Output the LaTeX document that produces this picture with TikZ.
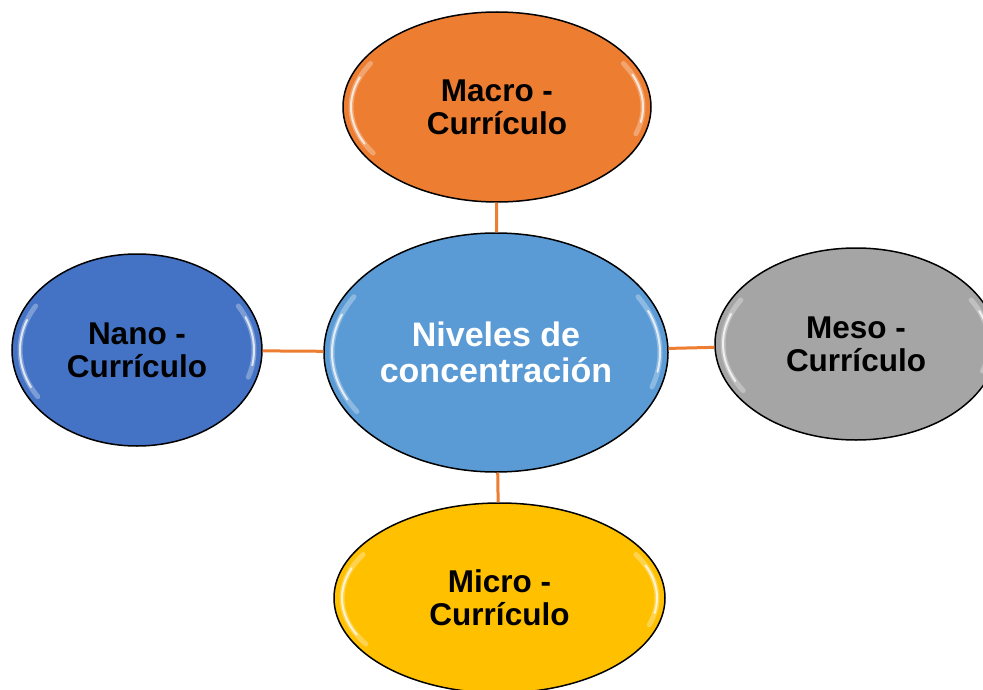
\documentclass[tikz,border=0pt]{standalone}
\usepackage{fontspec}
\setmainfont{Liberation Sans}
\usetikzlibrary{shapes.geometric}
\definecolor{cOrange}{HTML}{ED7D31}
\definecolor{cBlue}{HTML}{5B9BD5}
\definecolor{cDark}{HTML}{4472C4}
\definecolor{cGray}{HTML}{A5A5A5}
\definecolor{cGold}{HTML}{FFC000}
\tikzset{
  bubble/.style={ellipse, draw=black, line width=1.5pt, inner sep=0pt, align=center,
    font=\bfseries\fontsize{31.5}{33}\selectfont, text=black},
  link/.style={draw=cOrange, line width=3pt},
  glossw/.style={white, line width=5pt, opacity=0.3, line cap=round},
  gloss/.style={white, line width=2pt, opacity=0.75, line cap=round}
}
\newcommand\shine[3]{%
  \draw[glossw] (#1.center) ++(148:{#2-8} and {#3-8}) arc[start angle=148, end angle=210, x radius={#2-8}, y radius={#3-8}];
  \draw[gloss] (#1.center) ++(155:{#2-8} and {#3-8}) arc[start angle=155, end angle=200, x radius={#2-8}, y radius={#3-8}];
  \draw[glossw] (#1.center) ++(-30:{#2-8} and {#3-8}) arc[start angle=-30, end angle=18, x radius={#2-8}, y radius={#3-8}];
  \draw[gloss] (#1.center) ++(-22:{#2-8} and {#3-8}) arc[start angle=-22, end angle=10, x radius={#2-8}, y radius={#3-8}];
}
\begin{document}
\begin{tikzpicture}[x=1pt, y=-1pt]
\useasboundingbox (0,0) rectangle (983,690);
\clip (0,0) rectangle (983,690);
\node[bubble, fill=cBlue, minimum width=344pt, minimum height=239pt, text=white,
  font=\bfseries\fontsize{34}{36}\selectfont] (core) at (496,352.5) {Niveles de\\concentración};
\node[bubble, fill=cOrange, minimum width=308pt, minimum height=190pt] (macro) at (497,107) {Macro -\\Currículo};
\node[bubble, fill=cDark, minimum width=250pt, minimum height=192pt] (nano) at (137,350) {Nano -\\Currículo};
\node[bubble, fill=cGray, minimum width=282pt, minimum height=192pt] (meso) at (856,344) {Meso -\\Currículo};
\node[bubble, fill=cGold, minimum width=331pt, minimum height=190pt] (micro) at (499.5,598) {Micro -\\Currículo};
\draw[link] (core) -- (macro);
\draw[link] (core) -- (nano);
\draw[link] (core) -- (meso);
\draw[link] (core) -- (micro);
\shine{core}{172}{119.5}
\shine{macro}{154}{95}
\shine{nano}{125}{96}
\shine{meso}{141}{96}
\shine{micro}{165.5}{95}
\end{tikzpicture}
\end{document}
